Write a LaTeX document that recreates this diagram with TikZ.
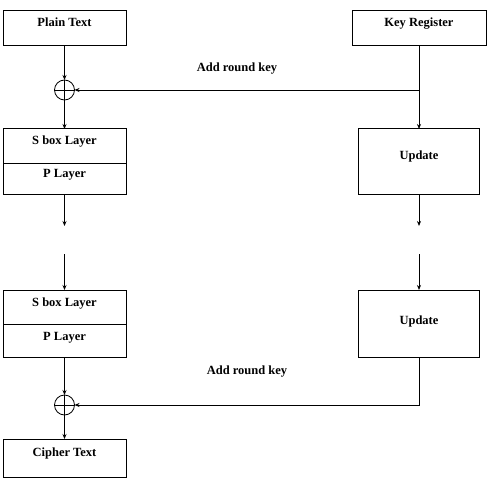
\documentclass[tikz,border=0pt]{standalone}
\usepackage{fontspec}
\setmainfont{Liberation Serif}
\usetikzlibrary{arrows.meta}
\begin{document}
\begin{tikzpicture}[x=1pt,y=-1pt,
  box/.style={draw,line width=1pt,inner sep=0pt,outer sep=0pt},
  lbl/.style={anchor=base,inner sep=0pt,font=\fontsize{12.5}{14}\selectfont\bfseries},
  xorn/.style={draw,circle,line width=0.8pt,minimum size=20pt,inner sep=0pt,outer sep=0pt,
    path picture={\draw[line width=0.8pt] (path picture bounding box.north) -- (path picture bounding box.south)
      (path picture bounding box.west) -- (path picture bounding box.east);}},
  arr/.style={line width=0.8pt,-{Stealth[length=5pt,width=4pt]}},
  ln/.style={line width=0.8pt}]
\useasboundingbox (0,0) rectangle (489,489);
% boxes
\node[box,minimum width=123pt,minimum height=35pt] (pt) at (64.5,28.5) {};
\node[box,minimum width=134pt,minimum height=35pt] (kr) at (419,28.5) {};
\node[xorn] (xor1) at (64.5,90) {};
\node[box,minimum width=123pt,minimum height=34pt] (sb1) at (64.5,146) {};
\node[box,minimum width=123pt,minimum height=31pt] (pl1) at (64.5,178.5) {};
\node[box,minimum width=121pt,minimum height=65pt] (up1) at (419,161.5) {};
\node[box,minimum width=123pt,minimum height=34pt] (sb2) at (64.5,307) {};
\node[box,minimum width=123pt,minimum height=33pt] (pl2) at (64.5,340.5) {};
\node[box,minimum width=121pt,minimum height=67pt] (up2) at (419,323.5) {};
\node[xorn] (xor2) at (64.5,405) {};
\node[box,minimum width=123pt,minimum height=38pt] (ct) at (64.5,458) {};
% texts
\node[lbl] (tpt) at (64.5,27) {Plain Text};
\node[lbl] (tkr) at (419,27) {Key Register};
\node[lbl] (tsb1) at (64.5,145) {S box Layer};
\node[lbl] (tpl1) at (64.5,177) {P Layer};
\node[lbl] (tup1) at (419,160) {Update};
\node[lbl] (tsb2) at (64.5,306) {S box Layer};
\node[lbl] (tpl2) at (64.5,340) {P Layer};
\node[lbl] (tup2) at (419,324) {Update};
\node[lbl] (tct) at (64.5,456) {Cipher Text};
\node[lbl] (ark1) at (237,72) {Add round key};
\node[lbl] (ark2) at (247,374) {Add round key};
% free ends
\coordinate (e1) at (64.5,226);
\coordinate (s1) at (64.5,254);
\coordinate (e2) at (419,226);
\coordinate (s2) at (419,254);
% connectors
\draw[arr] (pt.south) -- (xor1.north);
\draw[arr] (xor1.south) -- (sb1.north);
\draw[arr] (kr.south) -- (up1.north);
\draw[arr] (kr.south |- xor1.east) -- (xor1.east);
\draw[arr] (pl1.south) -- (e1);
\draw[arr] (up1.south) -- (e2);
\draw[arr] (s1) -- (sb2.north);
\draw[arr] (s2) -- (up2.north);
\draw[arr] (pl2.south) -- (xor2.north);
\draw[arr] (xor2.south) -- (ct.north);
\draw[arr] (up2.south) |- (xor2.east);
\end{tikzpicture}
\end{document}
